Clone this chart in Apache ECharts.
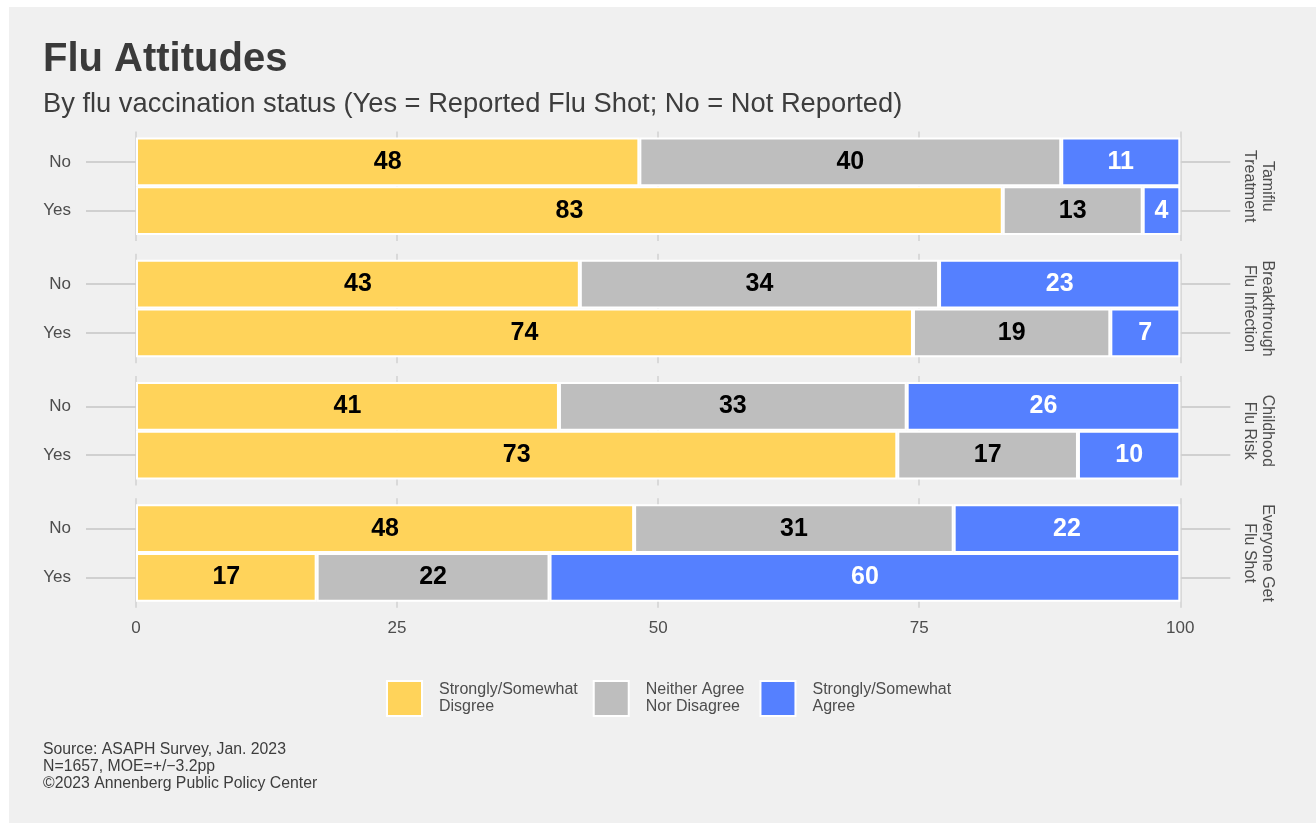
<!DOCTYPE html>
<html>
<head>
<meta charset="utf-8">
<script src="https://cdn.jsdelivr.net/npm/echarts@6/dist/echarts.min.js"></script>
<style>
  html, body { margin: 0; padding: 0; background: #ffffff; }
  #chart { width: 1316px; height: 823px; }
</style>
</head>
<body>
<div id="chart"></div>
<script>
// ---- DATA ----
const panels = ['Tamiflu\nTreatment', 'Breakthrough\nFlu Infection', 'Childhood\nFlu Risk', 'Everyone Get\nFlu Shot'];
const groups = ['Yes', 'No']; // bottom to top
const seriesNames = ['Strongly/Somewhat\nDisgree', 'Neither Agree\nNor Disagree', 'Strongly/Somewhat\nAgree'];
const disagreeNo  = [48.2, 42.5, 40.5, 47.7];
const disagreeYes = [83.0, 74.4, 72.9, 17.3];
const neutralNo   = [40.4, 34.4, 33.3, 30.6];
const neutralYes  = [13.4, 18.9, 17.3, 22.3];
const agreeNo     = [11.4, 23.1, 26.2, 21.7];
const agreeYes    = [3.6, 6.7, 9.8, 60.4];
const xTicks = [0, 25, 50, 75, 100];

// ---- STYLE ----
const colors = ['#FFD35A', '#BEBEBE', '#5580FF'];
const labelColors = ['#000000', '#000000', '#ffffff'];
const FONT = '"Liberation Sans", Arial, Helvetica, sans-serif';
const barTops = [137.5, 259.8, 382.0, 504.3];
const barH = 97.5;
const gridLeft = 136, gridRight = 135.7;

const grids = [], xAxes = [], yAxes = [], series = [];
const valueSets = [
  [disagreeYes, disagreeNo],
  [neutralYes, neutralNo],
  [agreeYes, agreeNo]
];

panels.forEach((p, i) => {
  const last = i === panels.length - 1;
  // background grid for gridlines (slightly taller than bars)
  grids.push({ left: gridLeft, right: gridRight, top: barTops[i] - 6, height: barH + 12, containLabel: false });
  const gIdx = grids.length - 1;
  xAxes.push({
    gridIndex: gIdx, type: 'value', min: xTicks[0], max: xTicks[xTicks.length - 1], interval: xTicks[1] - xTicks[0],
    axisLine: { show: false }, axisTick: { show: false },
    splitLine: { show: true, lineStyle: { color: '#d9d9d9', width: 2 } },
    axisLabel: { show: last, color: '#4d4d4d', fontSize: 17, fontFamily: FONT, margin: 12 }
  });
  yAxes.push({ gridIndex: gIdx, type: 'category', data: groups, show: false });

  // bar grid
  grids.push({ left: gridLeft, right: gridRight, top: barTops[i], height: barH, containLabel: false });
  const bIdx = grids.length - 1;
  xAxes.push({
    gridIndex: bIdx, type: 'value', min: 0, max: 100, interval: 25, show: false,
    splitLine: { show: false }
  });
  const xIdx = xAxes.length - 1;
  yAxes.push({
    gridIndex: bIdx, type: 'category', data: groups, position: 'left',
    axisLine: { show: false },
    axisTick: { show: true, length: 50, alignWithLabel: true, lineStyle: { color: '#d0d0d0', width: 2 } },
    axisLabel: { color: '#4d4d4d', fontSize: 17, fontFamily: FONT, margin: 65 }
  });
  const yIdx = yAxes.length - 1;
  yAxes.push({
    gridIndex: bIdx, type: 'category', data: groups, position: 'right',
    axisLine: { show: false },
    axisTick: { show: true, length: 50, alignWithLabel: true, lineStyle: { color: '#d0d0d0', width: 2 } },
    axisLabel: { show: false },
    name: p, nameLocation: 'middle', nameRotate: -90, nameGap: 60,
    nameTextStyle: { color: '#4d4d4d', fontSize: 16, fontFamily: FONT, lineHeight: 18 }
  });

  seriesNames.forEach((s, k) => {
    series.push({
      name: s, type: 'bar', stack: 'panel' + i,
      xAxisIndex: xIdx, yAxisIndex: yIdx,
      barWidth: '100%',
      data: [valueSets[k][0][i], valueSets[k][1][i]],
      itemStyle: { color: colors[k], borderColor: '#ffffff', borderWidth: 2 },
      label: {
        show: true, position: 'inside',
        formatter: (d) => String(Math.round(d.value)),
        color: labelColors[k], fontWeight: 'bold', fontSize: 25, fontFamily: FONT
      },
      emphasis: { disabled: true },
      animation: false
    });
  });
});

const chart = echarts.init(document.getElementById('chart'), null, { renderer: 'canvas' });
chart.setOption({
  backgroundColor: 'transparent',
  animation: false,
  graphic: [
    { type: 'rect', left: 9, top: 7, z: -100, silent: true,
      shape: { width: 1307, height: 816 }, style: { fill: '#f0f0f0' } },
    { type: 'text', left: 43, top: 741, silent: true,
      style: { text: 'Source: ASAPH Survey, Jan. 2023\nN=1657, MOE=+/\u22123.2pp\n\u00a92023 Annenberg Public Policy Center',
               fill: '#3d3d3d', font: '15.8px ' + FONT, lineHeight: 17 } }
  ],
  title: [
    { text: 'Flu Attitudes', left: 38, top: 35,
      textStyle: { fontSize: 40, fontWeight: 'bold', color: '#3a3a3a', fontFamily: FONT } },
    { text: 'By flu vaccination status (Yes = Reported Flu Shot; No = Not Reported)', left: 38, top: 86,
      textStyle: { fontSize: 27.3, fontWeight: 'normal', color: '#3d3d3d', fontFamily: FONT } }
  ],
  legend: {
    data: seriesNames, left: 381, top: 675, orient: 'horizontal',
    itemWidth: 35, itemHeight: 35, itemGap: 15, icon: 'rect',
    itemStyle: { borderColor: '#ffffff', borderWidth: 2 },
    selectedMode: false,
    textStyle: { color: '#4d4d4d', fontSize: 16, fontFamily: FONT, lineHeight: 17, padding: [0, 0, 0, 12] }
  },
  grid: grids, xAxis: xAxes, yAxis: yAxes, series: series
});
</script>
</body>
</html>
